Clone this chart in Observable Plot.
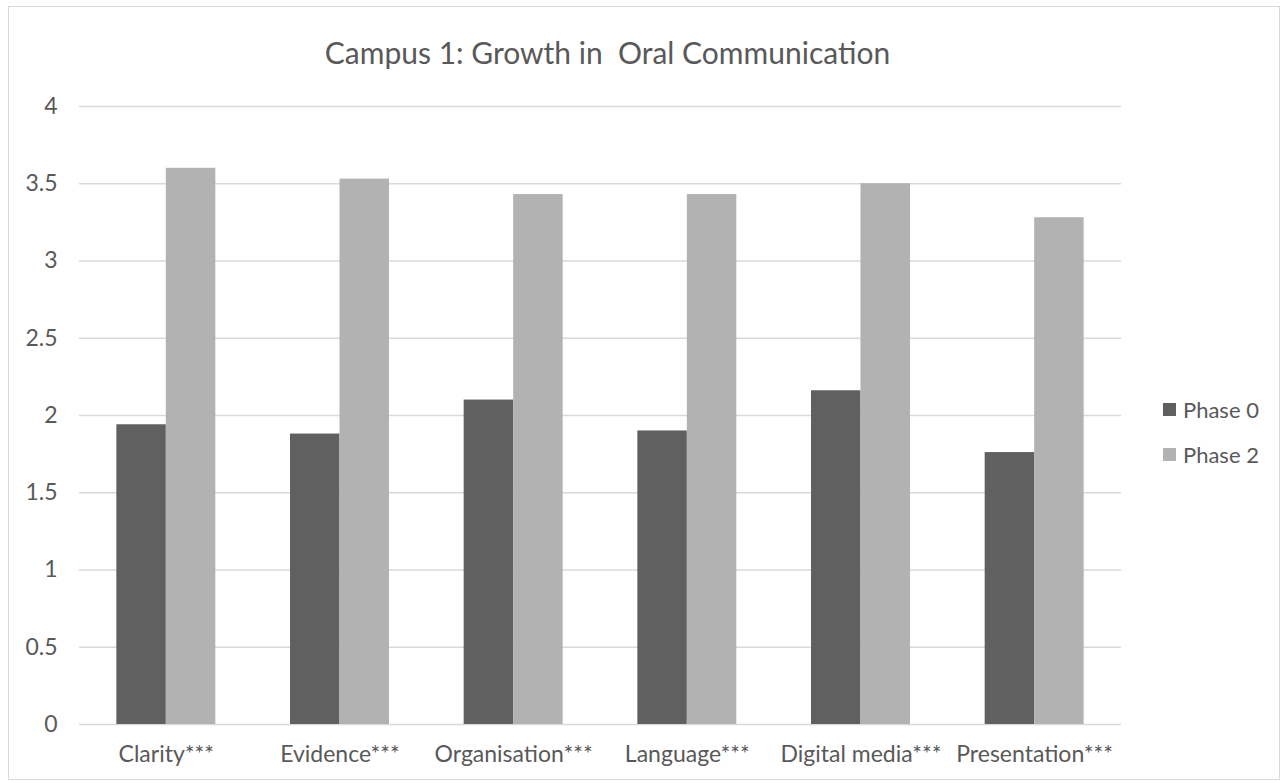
<!DOCTYPE html>
<html>
<head>
<meta charset="utf-8">
<script src="https://cdn.jsdelivr.net/npm/d3@7"></script>
<script src="https://cdn.jsdelivr.net/npm/@observablehq/plot@0.6"></script>
<style>
  html, body { margin: 0; padding: 0; background: #fff; }
  #chart { position: relative; width: 1287px; height: 783px; font-family: Lato, "Open Sans", sans-serif; color: #595959; }
  #frame { position: absolute; left: 8px; top: 6px; width: 1272px; height: 774px; border: 1px solid #d9d9d9; box-sizing: border-box; pointer-events: none; }
  #title { position: absolute; left: 0; top: 0; width: 1215px; height: 88px; text-align: center; font-size: 30px; line-height: 30px; padding-top: 37px; box-sizing: border-box; white-space: pre; }
  #plot { position: absolute; left: 0; top: 88px; }
  #legend { position: absolute; left: 1163px; top: 396px; font-size: 22px; }
  .item { display: flex; align-items: center; height: 27px; margin-bottom: 17.6px; }
  .sw { width: 13px; height: 13px; margin-right: 7px; }
</style>
</head>
<body>
<div id="chart">
  <div id="title"></div>
  <div id="plot"></div>
  <div id="legend"></div>
  <div id="frame"></div>
</div>
<script>
const titleText = "Campus 1: Growth in  Oral Communication";
const categories = ["Clarity***", "Evidence***", "Organisation***", "Language***", "Digital media***", "Presentation***"];
const seriesNames = ["Phase 0", "Phase 2"];
const phase0 = [1.94, 1.88, 2.10, 1.90, 2.16, 1.76];
const phase2 = [3.60, 3.53, 3.43, 3.43, 3.50, 3.28];
const yTicks = [0, 0.5, 1, 1.5, 2, 2.5, 3, 3.5, 4];
const colors = ["#606060", "#b2b2b2"];

document.getElementById("title").textContent = titleText;

const data = [];
categories.forEach((c, i) => {
  data.push({category: c, series: seriesNames[0], value: phase0[i]});
  data.push({category: c, series: seriesNames[1], value: phase2[i]});
});

const W = 1287, H = 695;
const mL = 79, mR = 166, mT = 18, mB = 59;
const step = (W - mL - mR) / categories.length;
const outer = 0.215 * step, half = 0.5 * step;

const chart = Plot.plot({
  width: W,
  height: H,
  marginLeft: mL,
  marginRight: mR,
  marginTop: mT,
  marginBottom: mB,
  style: {fontFamily: "Lato, 'Open Sans', sans-serif", fontSize: "23px", color: "#595959", background: "transparent"},
  x: {domain: categories, padding: 0, round: false, label: null},
  y: {domain: [0, 4], label: null},
  color: {domain: seriesNames, range: colors},
  marks: [
    Plot.ruleY(yTicks, {stroke: "#d9d9d9", strokeWidth: 1.3}),
    Plot.barY(data.filter(d => d.series === seriesNames[0]), {x: "category", y: "value", fill: "series", insetLeft: outer, insetRight: half}),
    Plot.barY(data.filter(d => d.series === seriesNames[1]), {x: "category", y: "value", fill: "series", insetLeft: half, insetRight: outer}),
    Plot.axisY({ticks: yTicks, tickFormat: d => String(d), tickSize: 0, tickPadding: 22, fill: "#595959", fontSize: 23, label: null}),
    Plot.axisX({tickSize: 0, tickPadding: 21, fill: "#595959", fontSize: 23, label: null})
  ]
});
document.getElementById("plot").appendChild(chart);

const legend = document.getElementById("legend");
seriesNames.forEach((s, i) => {
  const item = document.createElement("div");
  item.className = "item";
  const sw = document.createElement("div");
  sw.className = "sw";
  sw.style.background = colors[i];
  const label = document.createElement("span");
  label.textContent = s;
  item.appendChild(sw);
  item.appendChild(label);
  legend.appendChild(item);
});
</script>
</body>
</html>
